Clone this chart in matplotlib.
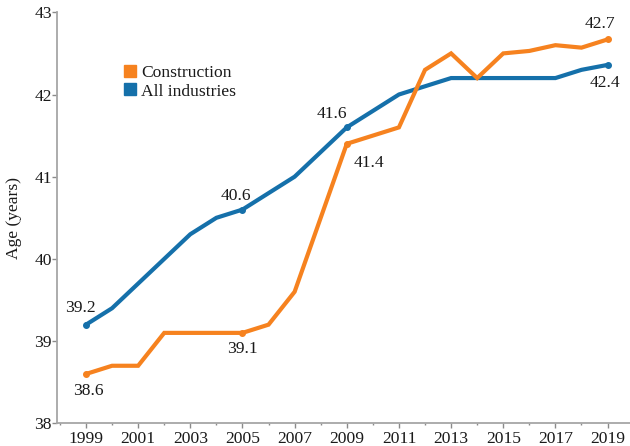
import matplotlib
matplotlib.use('Agg')
import matplotlib.pyplot as plt
from matplotlib.lines import Line2D

plt.rcParams['font.family'] = ['Liberation Serif', 'DejaVu Serif']

years = list(range(1999, 2020))
construction = [38.6, 38.7, 38.7, 39.1, 39.1, 39.1, 39.1, 39.2, 39.6, 40.5, 41.4,
                41.5, 41.6, 42.3, 42.5, 42.2, 42.5, 42.53, 42.6, 42.57, 42.67]
all_industries = [39.2, 39.4, 39.7, 40.0, 40.3, 40.5, 40.6, 40.8, 41.0, 41.3, 41.6,
                  41.8, 42.0, 42.1, 42.2, 42.2, 42.2, 42.2, 42.2, 42.3, 42.36]
series_names = ['Construction', 'All industries']
label_years = [1999, 2005, 2009, 2019]
yticks = [38, 39, 40, 41, 42, 43]
xticks = list(range(1999, 2020, 2))

ORANGE = '#F6821F'
BLUE = '#1570AA'
TXT = '#1a1a1a'
FS = 12.6

fig = plt.figure(figsize=(6.3, 4.46), dpi=100)
W, H = 630, 446
left_px, right_px, top_px, bottom_px = 57.3, 630, 12.3, 423.3
ax = fig.add_axes([left_px / W, (H - bottom_px) / H,
                   (right_px - left_px) / W, (bottom_px - top_px) / H])

ax.plot(years, all_industries, color=BLUE, lw=3, solid_capstyle='round', solid_joinstyle='miter', zorder=3)
ax.plot(years, construction, color=ORANGE, lw=3, solid_capstyle='round', solid_joinstyle='miter', zorder=4)

# label offsets (pixels) for the value labels
offs_c = {1999: (2, -21), 2005: (0, -20), 2009: (22.5, -22.7), 2019: (-7.7, 11.3)}
offs_a = {1999: (-6, 12.3), 2005: (-6.5, 9.3), 2009: (-15, 9.6), 2019: (-2.7, -22)}
for yr in label_years:
    i = years.index(yr)
    for vals, col, offs, z in ((all_industries, BLUE, offs_a, 3), (construction, ORANGE, offs_c, 4)):
        ax.plot([yr], [vals[i]], marker='o', ms=4, color=col, zorder=z, clip_on=False)
        ax.annotate(f"{vals[i]:.1f}", (yr, vals[i]), xytext=offs[yr], textcoords='offset pixels',
                    ha='center', va='baseline', fontsize=FS, color=TXT)

ax.set_xlim(1997.9, 2019.86)
ax.set_ylim(38, 43)
ax.set_xticks(xticks)
ax.set_xticks(list(range(1998, 2020, 2)), minor=True)
ax.set_yticks(yticks)

for s in ('top', 'right'):
    ax.spines[s].set_visible(False)
for s in ('left', 'bottom'):
    ax.spines[s].set_color('#a6a6a6')
    ax.spines[s].set_linewidth(1.3)

ax.tick_params(axis='both', which='major', length=3.5, width=1, color='#8a8a8a',
               labelsize=FS, labelcolor=TXT)
ax.tick_params(axis='y', which='major', pad=0.5)
ax.tick_params(axis='x', which='major', pad=1.8)
ax.tick_params(axis='x', which='minor', length=1.6, width=1, color='#8a8a8a')

ax.set_ylabel('Age (years)', fontsize=FS, color=TXT)
ax.yaxis.set_label_coords((22.5 - left_px) / (right_px - left_px), 0.5)

handles = [Line2D([], [], marker='s', color=c, linestyle='none', markersize=8.5)
           for c in (ORANGE, BLUE)]
leg = ax.legend(handles, series_names, loc='upper left',
                bbox_to_anchor=(124.5 / W, 1 - 65 / H), bbox_transform=fig.transFigure,
                frameon=False, fontsize=FS, handlelength=0.68, handletextpad=0.27,
                labelspacing=0.12, borderpad=0, borderaxespad=0)
for t in leg.get_texts():
    t.set_color(TXT)

fig.savefig('out.png', dpi=100)
